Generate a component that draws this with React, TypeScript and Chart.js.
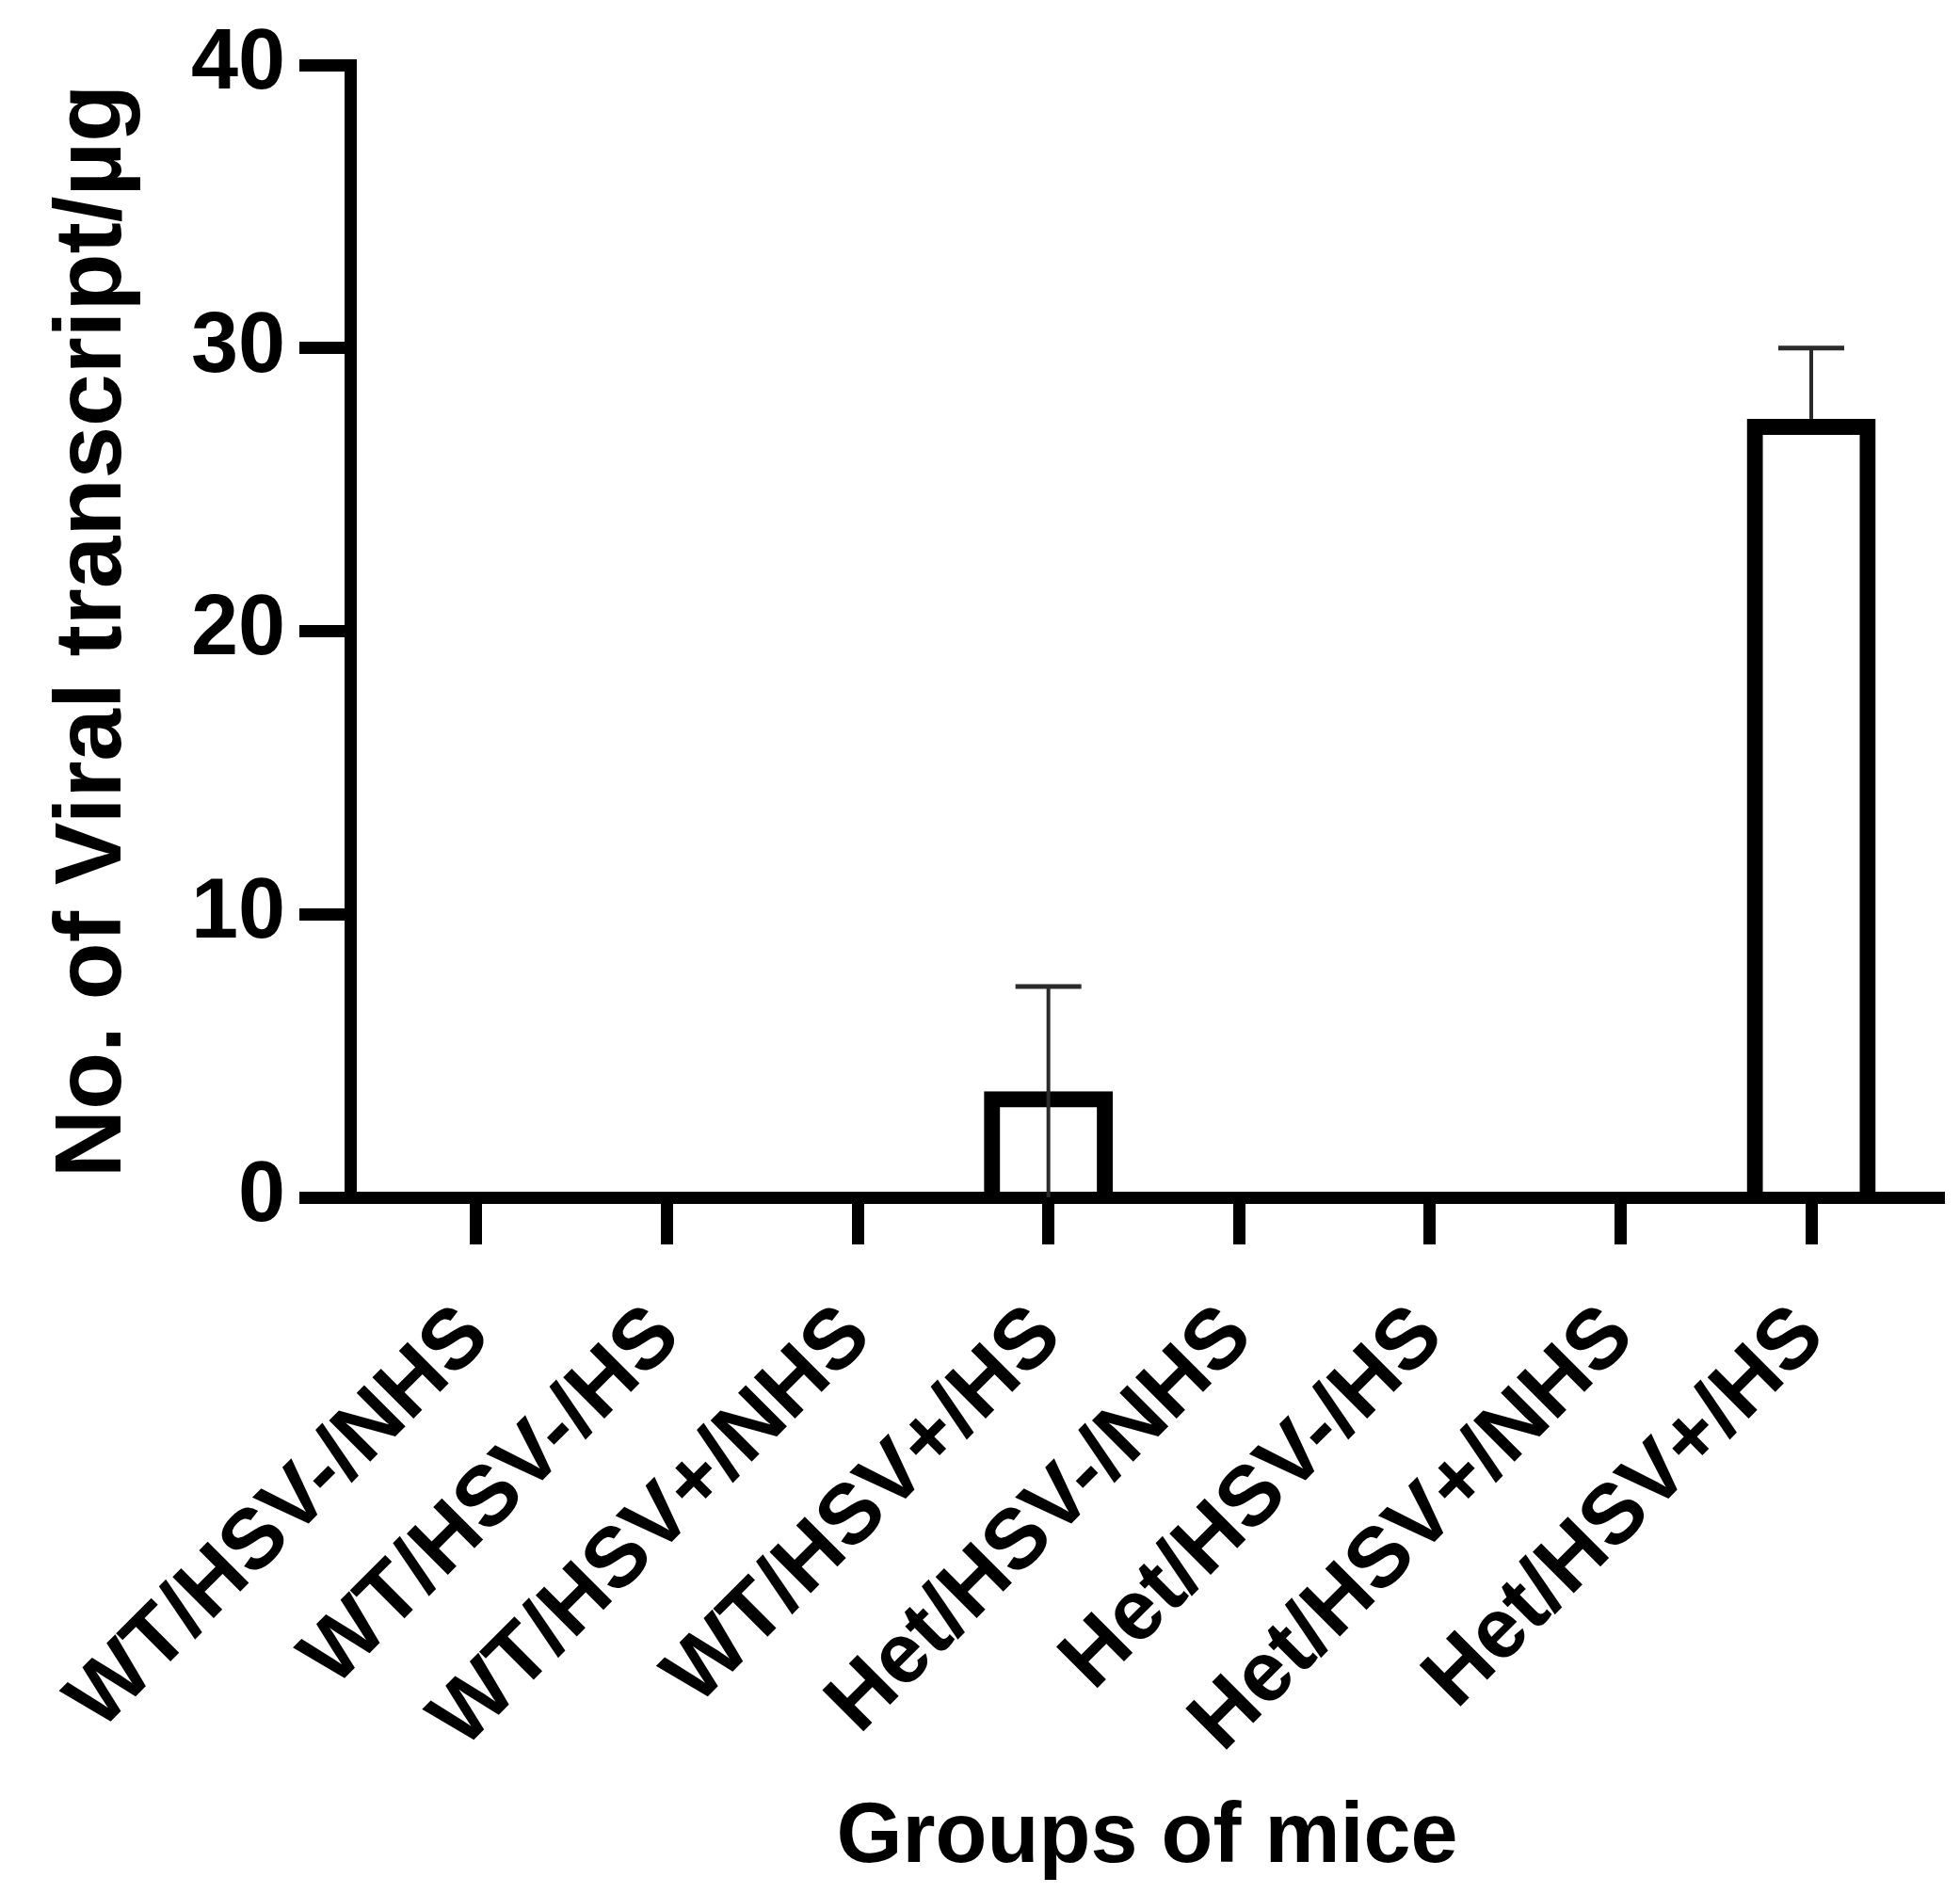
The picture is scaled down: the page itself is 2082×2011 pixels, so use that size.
import React, { useEffect, useRef } from "react";
import { Chart, registerables } from "chart.js";

Chart.register(...registerables);

// Groups of mice on the x axis
const groups = [
  "WT/HSV-/NHS",
  "WT/HSV-/HS",
  "WT/HSV+/NHS",
  "WT/HSV+/HS",
  "Het/HSV-/NHS",
  "Het/HSV-/HS",
  "Het/HSV+/NHS",
  "Het/HSV+/HS",
];

// Mean number of viral transcripts per µg
const meanTranscripts = [0, 0, 0, 3.75, 0, 0, 0, 27.5];
// Error bar extents above and below the mean
const errorAbove = [0, 0, 0, 3.7, 0, 0, 0, 2.5];
const errorBelow = [0, 0, 0, 3.75, 0, 0, 0, 0];

const yTickValues = [0, 10, 20, 30, 40];

const FONT = "'Liberation Sans', Arial, Helvetica, sans-serif";

const errorBarPlugin = {
  id: "errorBars",
  afterDatasetsDraw(chart: any) {
    const { ctx, scales } = chart;
    const xs = scales.x;
    const ys = scales.y;
    ctx.save();
    ctx.strokeStyle = "#2a2a2a";
    ctx.lineCap = "butt";
    meanTranscripts.forEach((m, i) => {
      const up = errorAbove[i];
      if (!up) return;
      const lo = Math.max(0, m - errorBelow[i]);
      const x = xs.getPixelForValue(i);
      const yTop = ys.getPixelForValue(m + up);
      const yBottom = ys.getPixelForValue(lo);
      ctx.lineWidth = 4;
      ctx.beginPath();
      ctx.moveTo(x, yTop);
      ctx.lineTo(x, yBottom);
      ctx.stroke();
      ctx.lineWidth = 5;
      ctx.beginPath();
      ctx.moveTo(x - 35, yTop);
      ctx.lineTo(x + 35, yTop);
      ctx.stroke();
    });
    ctx.restore();
  },
};

export default function App() {
  const canvasRef = useRef<HTMLCanvasElement | null>(null);

  useEffect(() => {
    const canvas = canvasRef.current;
    if (!canvas) return;
    const chart = new Chart(canvas, {
      type: "bar",
      data: {
        datasets: [
          {
            data: meanTranscripts.map((v, i) => ({ x: i, y: v })),
            backgroundColor: "rgba(255,255,255,0)",
            borderColor: "#000",
            borderWidth: 17,
            borderSkipped: "start",
            barPercentage: 0.676,
            categoryPercentage: 1,
          },
        ],
      },
      options: {
        responsive: false,
        animation: false,
        devicePixelRatio: 1,
        layout: { padding: { top: 68, right: 17, left: 0, bottom: 0 } },
        plugins: {
          legend: { display: false },
          tooltip: { enabled: false },
        },
        scales: {
          x: {
            type: "linear",
            offset: false,
            min: -0.661,
            max: 7.696,
            afterBuildTicks: (axis: any) => {
              axis.ticks = groups.map((_, i) => ({ value: i }));
            },
            afterFit: (axis: any) => {
              axis.height = 739;
            },
            grid: {
              display: true,
              offset: false,
              drawOnChartArea: false,
              drawTicks: true,
              tickLength: 50,
              tickWidth: 13,
              tickColor: "#000",
            },
            border: { display: true, color: "#000", width: 13 },
            ticks: {
              autoSkip: false,
              minRotation: 45,
              maxRotation: 45,
              padding: 45,
              color: "#000",
              font: { family: FONT, size: 90, weight: "bold" },
              callback: (v: any) => groups[v as number] ?? "",
            },
            title: {
              display: true,
              text: "Groups of mice",
              color: "#000",
              font: { family: FONT, size: 90, weight: "bold" },
              padding: { top: 4, bottom: 4 },
            },
          },
          y: {
            min: 0,
            max: 40,
            afterBuildTicks: (axis: any) => {
              axis.ticks = yTickValues.map((v) => ({ value: v }));
            },
            afterFit: (axis: any) => {
              axis.width = 372;
            },
            grid: {
              display: true,
              drawOnChartArea: false,
              drawTicks: true,
              tickLength: 54,
              tickWidth: 13,
              tickColor: "#000",
            },
            border: { display: true, color: "#000", width: 13 },
            ticks: {
              padding: 15,
              color: "#000",
              font: { family: FONT, size: 90, weight: "bold" },
            },
            title: {
              display: true,
              text: "No. of Viral transcript/µg",
              color: "#000",
              font: { family: FONT, size: 100, weight: "bold" },
              padding: { top: 40, bottom: 0 },
            },
          },
        },
      },
      plugins: [errorBarPlugin],
    });
    return () => chart.destroy();
  }, []);

  return (
    <div
      style={{
        position: "absolute",
        left: 0,
        top: 0,
        width: 2082,
        height: 2011,
        background: "#fff",
      }}
    >
      <canvas ref={canvasRef} width={2082} height={2011} style={{ display: "block" }} />
    </div>
  );
}
